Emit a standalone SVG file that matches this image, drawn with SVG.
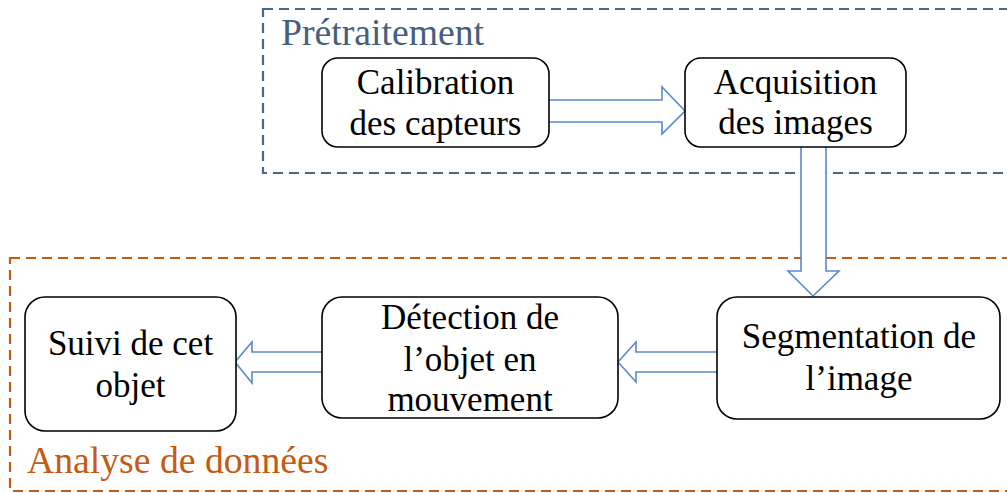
<svg xmlns="http://www.w3.org/2000/svg" width="1007" height="493" viewBox="0 0 1007 493">
<style>
.grp{fill:none;stroke-width:2.2;stroke-dasharray:10,6}
.node{fill:#fff;stroke:#000;stroke-width:1.6}
.t{font-size:35px;fill:#000;text-anchor:middle}
.lbl{font-size:37.7px}
.arr{fill:#fff;stroke:#5b87d2;stroke-width:1.6;stroke-linejoin:miter}
</style>
<rect width="1007" height="493" fill="#fff"/>
<g font-family="Liberation Serif, Tinos, Times New Roman, DejaVu Serif, serif">
<g id="group-pretraitement">
<rect class="grp" x="263" y="9" width="800" height="164" stroke="#4a6888"/>
<text class="lbl" x="281" y="45" fill="#44607d">Prétraitement</text>
</g>
<g id="group-analyse">
<rect class="grp" x="10" y="258" width="1050" height="233" stroke="#c55a11"/>
<text class="lbl" x="27" y="473" fill="#c55a11">Analyse de données</text>
</g>
<g id="connectors">
<path class="arr" d="M549,100 H662 V87 L685,111 L662,134 V122 H549"/>
<path class="arr" d="M801,147 V271 H788 L813,296 L839,271 H826 V147"/>
<path class="arr" d="M717,352 H636 V342 L618,362 L636,382 V372 H717"/>
<path class="arr" d="M322,352 H252 V342 L235,362 L252,383 V372 H322"/>
</g>
<g id="node-calibration">
<rect class="node" x="322" y="58" width="227" height="89" rx="16"/>
<text class="t" x="435.5" y="94">Calibration</text>
<text class="t" x="435.5" y="135">des capteurs</text>
</g>
<g id="node-acquisition">
<rect class="node" x="685" y="58" width="221" height="89" rx="16"/>
<text class="t" x="795.5" y="94">Acquisition</text>
<text class="t" x="795.5" y="134">des images</text>
</g>
<g id="node-segmentation">
<rect class="node" x="717" y="297" width="283" height="122" rx="20"/>
<text class="t" x="859" y="348">Segmentation de</text>
<text class="t" x="859" y="390">l’image</text>
</g>
<g id="node-detection">
<rect class="node" x="322" y="297" width="296" height="121" rx="20"/>
<text class="t" x="470" y="329">Détection de</text>
<text class="t" x="470" y="371">l’objet en</text>
<text class="t" x="470" y="411">mouvement</text>
</g>
<g id="node-suivi">
<rect class="node" x="25" y="297" width="211" height="134" rx="20"/>
<text class="t" x="130.5" y="355">Suivi de cet</text>
<text class="t" x="130.5" y="397">objet</text>
</g>
</g>
</svg>
